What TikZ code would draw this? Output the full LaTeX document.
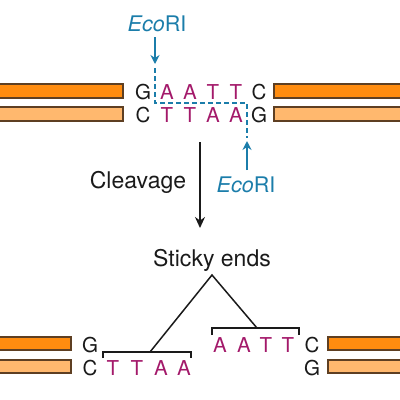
\documentclass[tikz,border=0pt]{standalone}
\usepackage{fontspec}
\setmainfont{TeX Gyre Heros}
\usetikzlibrary{arrows.meta}
\definecolor{barDark}{HTML}{FF8C0F}
\definecolor{barLight}{HTML}{FFB86E}
\definecolor{barEdge}{HTML}{5E3F22}
\definecolor{ecoBlue}{HTML}{1B7DAA}
\definecolor{baseMag}{HTML}{A3196A}
\definecolor{inkBlack}{HTML}{1A1A1A}
\tikzset{
  bar/.style={draw=barEdge, line width=1.2pt},
  base/.style={inner sep=0pt, font=\fontsize{20.5}{24}\selectfont, text=inkBlack, anchor=center},
  mag/.style={base, text=baseMag},
  lbl/.style={inner sep=0pt, font=\fontsize{23}{27}\selectfont, text=inkBlack},
  eco/.style={lbl, font=\fontsize{21.5}{25}\selectfont, text=ecoBlue},
  ecoarrow/.style={draw=ecoBlue, line width=1.7pt, -{Stealth[length=9pt,width=9pt]}},
  cutline/.style={draw=ecoBlue, line width=1.5pt, dash pattern=on 5pt off 3pt},
  bracket/.style={draw=inkBlack, line width=1.5pt},
}
\begin{document}
\begin{tikzpicture}[x=1pt,y=-1pt]
\useasboundingbox (0,0) rectangle (400,400);
% top DNA bars
\draw[bar, fill=barDark] (-5,84) rectangle (123,98);
\draw[bar, fill=barLight] (-5,107) rectangle (123,121);
\draw[bar, fill=barDark] (274,84) rectangle (405,98);
\draw[bar, fill=barLight] (274,107) rectangle (405,121);
% top bases
\node[base] (g1) at (143,92) {G};
\node[mag] (a1) at (167,92) {A};
\node[mag] (a2) at (190,92) {A};
\node[mag] (t1) at (213,92) {T};
\node[mag] (t2) at (236,92) {T};
\node[base] (c1) at (259,92) {C};
\node[base] (c2) at (143,115) {C};
\node[mag] (t3) at (167,115) {T};
\node[mag] (t4) at (190,115) {T};
\node[mag] (a3) at (213,115) {A};
\node[mag] (a4) at (236,115) {A};
\node[base] (g2) at (259,115) {G};
% EcoRI labels and arrows
\node[eco] (eco1) at (157,24) {\textit{Eco}RI};
\node[eco] (eco2) at (246,185) {\textit{Eco}RI};
\coordinate (cutTop) at (155,64);
\coordinate (cutBot) at (247,141);
\draw[ecoarrow] (155,37) -- (cutTop);
\draw[ecoarrow] (247,170) -- (cutBot);
\draw[cutline] (155,68) -- (155,103) -- (247,103) -- (247,138);
% cleavage
\node[lbl] (cleave) at (138,182) {Cleavage};
\coordinate (arrTop) at (200,142);
\coordinate (arrTip) at (200,228);
\draw[draw=inkBlack, line width=2pt, -{Stealth[length=11pt,width=10pt]}] (arrTop) -- (arrTip);
% sticky ends
\node[lbl] (sticky) at (212,260) {Sticky ends};
\coordinate (apex) at (212,275);
\coordinate (lb) at (150,352);
\coordinate (rb) at (257,328);
\draw[bracket] (lb) -- (apex) -- (rb);
\draw[bracket] (103,358) -- (103,352) -- (191,352) -- (191,358);
\draw[bracket] (212,335) -- (212,328) -- (299,328) -- (299,335);
% bottom bars
\draw[bar, fill=barDark] (-5,337) rectangle (71,350);
\draw[bar, fill=barLight] (-5,360) rectangle (71,373);
\draw[bar, fill=barDark] (328,337) rectangle (405,350);
\draw[bar, fill=barLight] (328,360) rectangle (405,373);
% bottom bases left
\node[base] (lg) at (90,345) {G};
\node[base] (lc) at (90,368) {C};
\node[mag] (lt1) at (113,368) {T};
\node[mag] (lt2) at (137,368) {T};
\node[mag] (la1) at (161,368) {A};
\node[mag] (la2) at (184,368) {A};
% bottom bases right
\node[mag] (ra1) at (220,345) {A};
\node[mag] (ra2) at (244,345) {A};
\node[mag] (rt1) at (266,345) {T};
\node[mag] (rt2) at (288,345) {T};
\node[base] (rc) at (312,345) {C};
\node[base] (rg) at (312,368) {G};
\end{tikzpicture}
\end{document}
